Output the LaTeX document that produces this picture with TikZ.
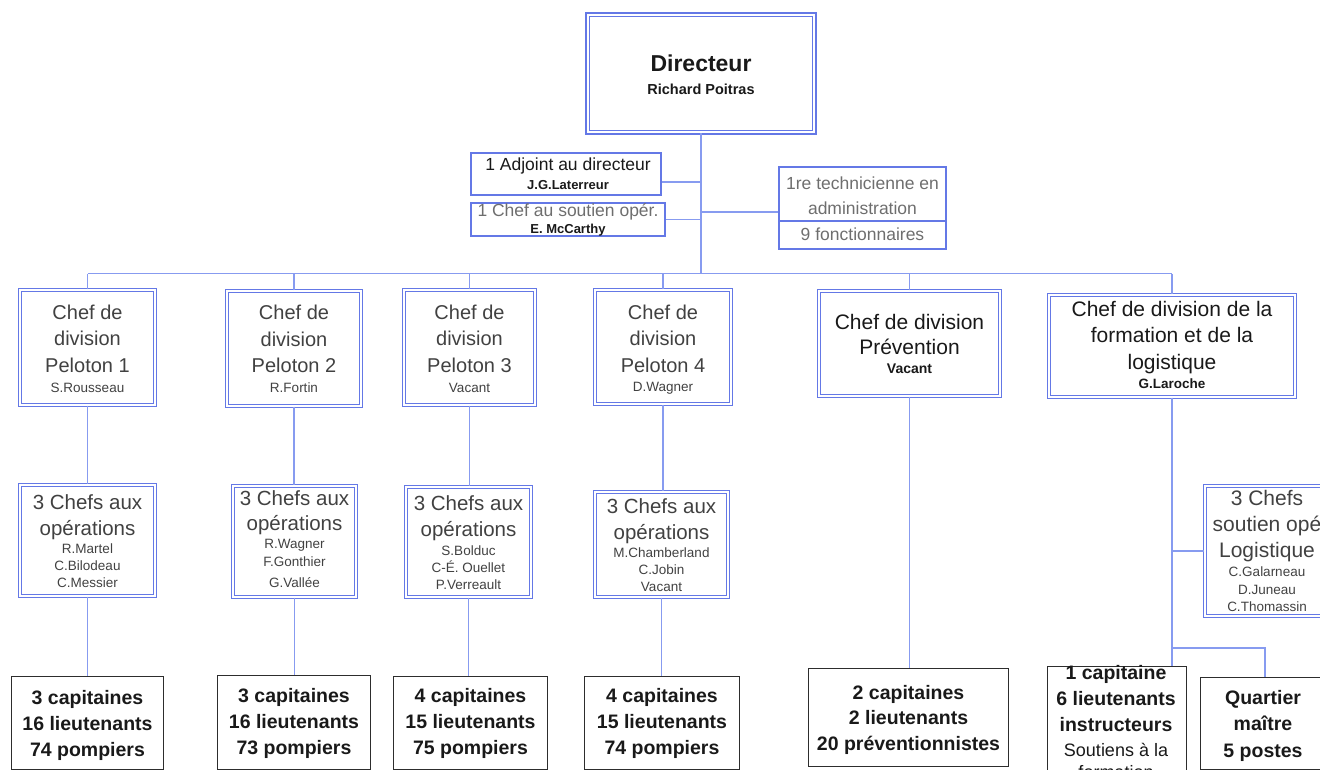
\documentclass[tikz,border=0pt]{standalone}
\usepackage{fontspec}
\setmainfont{Liberation Sans}
\newcommand{\myfs}[2]{\fontsize{#1}{#2}\selectfont}
\definecolor{bblue}{RGB}{100,120,230}
\definecolor{lblue}{RGB}{135,155,240}
\definecolor{tblack}{RGB}{25,25,25}
\definecolor{tgray}{RGB}{65,65,65}
\definecolor{lgray}{RGB}{110,110,110}
\definecolor{bdark}{RGB}{45,45,45}
\begin{document}
\begin{tikzpicture}[x=1pt,y=-1pt,
  dbox/.style={draw=bblue,double=white,double distance=1.8pt,line width=1pt,inner sep=0pt,rectangle},
  sbox/.style={draw=bblue,line width=1.6pt,inner sep=0pt,rectangle},
  kbox/.style={draw=bdark,line width=1.2pt,inner sep=0pt,rectangle},
  conn/.style={draw=lblue,line width=1.8pt},
  txt/.style={inner sep=0pt,align=center,text=tgray},
  head/.style={txt,font=\myfs{20}{26.5}},
  nm/.style={txt,font=\myfs{13.5}{17}},
  big/.style={txt,text=tblack,font=\myfs{19.5}{26}\bfseries},
]
\useasboundingbox (0,0) rectangle (1320,769);
\clip (0,0) rectangle (1320,769);

% ---------- top level ----------
\node[dbox,line width=1.6pt,double distance=2.2pt,minimum width=226.6pt,minimum height=117.6pt] (dir) at (701,73.5) {};
\node[txt,text=tblack,font=\myfs{23}{26}\bfseries] (dirt) at (701,63) {Directeur};
\node[txt,text=tblack,font=\myfs{14.5}{17}\bfseries] (dirn) at (701,89) {Richard Poitras};

\node[sbox,minimum width=190.4pt,minimum height=42.4pt] (adj) at (566,174) {};
\node[txt,text=tblack,font=\myfs{17.5}{20}] (adjt) at (568,166) {1 Adjoint au directeur};
\node[txt,text=tblack,font=\myfs{13}{15}\bfseries] (adjn) at (568,185) {J.G.Laterreur};

\node[sbox,minimum width=194.4pt,minimum height=33.4pt] (sout) at (568,219.5) {};
\node[txt,text=lgray,font=\myfs{17.5}{20}] (soutt) at (568,212) {1 Chef au soutien opér.};
\node[txt,text=tblack,font=\myfs{13}{15}\bfseries] (soutn) at (568,230.5) {E. McCarthy};

\node[sbox,minimum width=167.4pt,minimum height=82.4pt] (tech) at (862.5,208) {};
\coordinate (techdiv) at (862.5,221);
\draw[bblue,line width=1.6pt] (tech.west |- techdiv) -- (tech.east |- techdiv);
\node[txt,text=lgray,font=\myfs{17.5}{25.5}] (techt) at (862.5,208.5) {1re technicienne en\\administration\\9 fonctionnaires};

% trunk and side connectors
\coordinate (bus) at (0,273.5);
\coordinate (tA) at (701,182);
\coordinate (tT) at (701,212);
\draw[conn] (dir.south) -- (dir.south |- bus);
\draw[conn] (tA) -- (tA -| adj.east);
\draw[conn] (sout.east) -- (sout.east -| dir.south);
\draw[conn] (tT) -- (tT -| tech.west);

% ---------- division chiefs ----------
\node[dbox,minimum width=135.2pt,minimum height=115.2pt] (p1) at (87.5,347.5) {};
\node[head] (p1t) at (87.5,338.5) {Chef de\\division\\Peloton 1};
\node[nm] (p1n) at (87.5,388) {S.Rousseau};

\node[dbox,minimum width=134.2pt,minimum height=115.2pt] (p2) at (294,348.5) {};
\node[head] (p2t) at (294,339) {Chef de\\division\\Peloton 2};
\node[nm] (p2n) at (294,388) {R.Fortin};

\node[dbox,minimum width=131.2pt,minimum height=115.2pt] (p3) at (469.5,347.5) {};
\node[head] (p3t) at (469.5,338.5) {Chef de\\division\\Peloton 3};
\node[nm] (p3n) at (469.5,388) {Vacant};

\node[dbox,minimum width=136.2pt,minimum height=114.2pt] (p4) at (663,347) {};
\node[head] (p4t) at (663,338.5) {Chef de\\division\\Peloton 4};
\node[nm] (p4n) at (663,388) {D.Wagner};

\node[dbox,minimum width=181.2pt,minimum height=105.2pt] (prev) at (909.5,343.5) {};
\node[txt,text=tblack,font=\myfs{21}{25}] (prevt) at (909.5,334.5) {Chef de division\\Prévention};
\node[txt,text=tblack,font=\myfs{14}{17}\bfseries] (prevn) at (909.5,369) {Vacant};

\node[dbox,minimum width=246.2pt,minimum height=102.2pt] (form) at (1172,346) {};
\node[txt,text=tblack,font=\myfs{21}{26.5}] (formt) at (1172,337.5) {Chef de division de la\\formation et de la\\logistique};
\node[txt,text=tblack,font=\myfs{13.5}{17}\bfseries] (formn) at (1172,384) {G.Laroche};

% bus and drops
\draw[conn] (p1.north |- bus) -- (form.north |- bus);
\foreach \n in {p1,p2,p3,p4,prev,form}{
  \draw[conn] (\n.north) -- (\n.north |- bus);
}

% ---------- operations chiefs ----------
\node[dbox,minimum width=135.2pt,minimum height=111.2pt] (o1) at (87.5,540.5) {};
\node[head,font=\myfs{20.5}{26}] (o1t) at (87.5,517) {3 Chefs aux\\opérations};
\node[nm] (o1n) at (87.5,566) {R.Martel\\C.Bilodeau\\C.Messier};

\node[dbox,minimum width=123.2pt,minimum height=111.2pt] (o2) at (294.5,541.5) {};
\node[head,font=\myfs{20.5}{25}] (o2t) at (294.5,512.5) {3 Chefs aux\\opérations};
\node[nm,font=\myfs{13.5}{18}] (o2n) at (294.5,563.5) {R.Wagner\\F.Gonthier\\[3pt]G.Vallée};

\node[dbox,minimum width=125.2pt,minimum height=110.2pt] (o3) at (468.5,542) {};
\node[head,font=\myfs{20.5}{26}] (o3t) at (468.5,518) {3 Chefs aux\\opérations};
\node[nm] (o3n) at (468.5,567.5) {S.Bolduc\\C-É. Ouellet\\P.Verreault};

\node[dbox,minimum width=133.2pt,minimum height=105.2pt] (o4) at (661.5,544.5) {};
\node[head,font=\myfs{20.5}{26}] (o4t) at (661.5,521) {3 Chefs aux\\opérations};
\node[nm] (o4n) at (661.5,569.5) {M.Chamberland\\C.Jobin\\Vacant};

\node[dbox,minimum width=125.2pt,minimum height=130.2pt] (log) at (1267.5,551) {};
\node[head,font=\myfs{21}{26}] (logt) at (1267,526) {3 Chefs\\soutien opé\\Logistique};
\node[nm,font=\myfs{13.5}{17.5}] (logn) at (1267,589.5) {C.Galarneau\\D.Juneau\\C.Thomassin};

% ---------- staff boxes ----------
\node[kbox,minimum width=151.8pt,minimum height=92.8pt] (b1) at (87.5,723) {};
\node[big] (b1t) at (87.5,725) {3 capitaines\\16 lieutenants\\74 pompiers};

\node[kbox,minimum width=152.8pt,minimum height=93.8pt] (b2) at (294,722.5) {};
\node[big] (b2t) at (294,723.5) {3 capitaines\\16 lieutenants\\73 pompiers};

\node[kbox,minimum width=153.8pt,minimum height=92.8pt] (b3) at (470.5,723) {};
\node[big] (b3t) at (470.5,723.5) {4 capitaines\\15 lieutenants\\75 pompiers};

\node[kbox,minimum width=154.8pt,minimum height=92.8pt] (b4) at (662,723) {};
\node[big] (b4t) at (662,723.5) {4 capitaines\\15 lieutenants\\74 pompiers};

\node[kbox,minimum width=199.8pt,minimum height=97.8pt] (bp) at (908.5,717.5) {};
\node[big,font=\myfs{19.5}{25.5}\bfseries] (bpt) at (908.5,719.5) {2 capitaines\\2 lieutenants\\20 préventionnistes};

\node[kbox,minimum width=138.8pt,minimum height=107.8pt] (bc) at (1117,720.5) {};
\node[big] (bct) at (1116,699) {1 capitaine\\6 lieutenants\\instructeurs};
\node[txt,text=tblack,font=\myfs{18}{22}] (bcn) at (1116,761) {Soutiens à la\\formation};

\node[kbox,minimum width=128.8pt,minimum height=91.8pt] (bq) at (1265,723.5) {};
\node[big,font=\myfs{19.5}{26.5}\bfseries] (bqt) at (1263,725.5) {Quartier\\maître\\5 postes};

% ---------- vertical connectors ----------
\foreach \a/\b in {p1/o1,p2/o2,p3/o3,p4/o4}{
  \draw[conn] (\a.south) -- (\a.south |- \b.north);
}
\foreach \a/\b in {o1/b1,o2/b2,o3/b3,o4/b4}{
  \draw[conn] (\a.south) -- (\a.south |- \b.north);
}
\draw[conn] (prev.south) -- (prev.south |- bp.north);
\draw[conn] (form.south) -- (form.south |- bc.north);
\draw[conn] (log.west) -- (log.west -| form.south);
\coordinate (fj) at (1172,648);
\draw[conn] (fj) -| (bq.north);
\end{tikzpicture}
\end{document}
